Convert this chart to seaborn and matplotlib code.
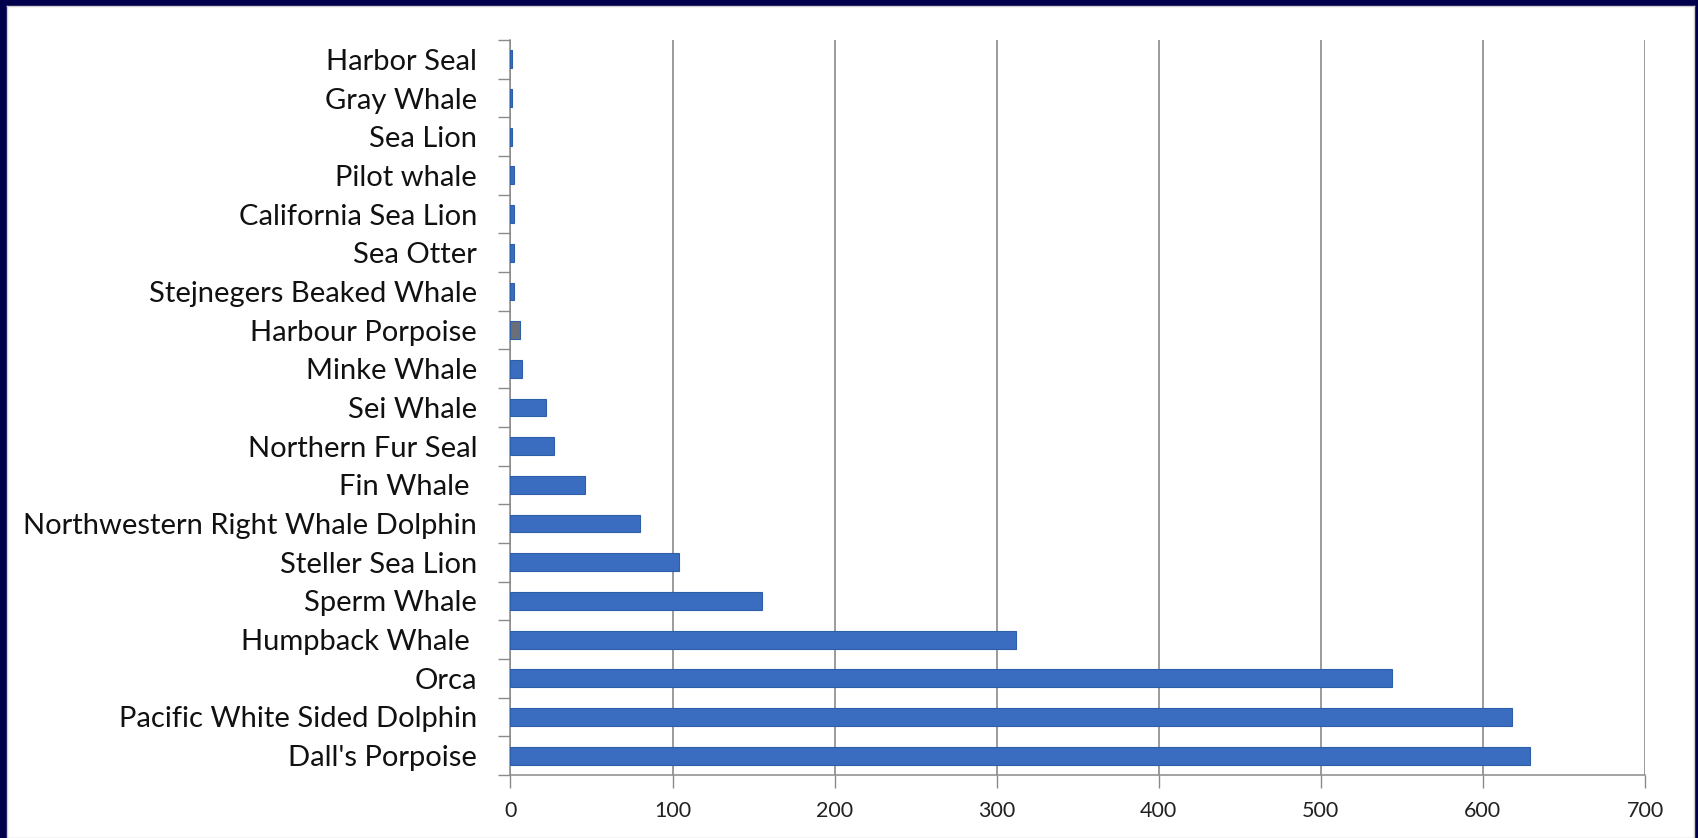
import matplotlib
matplotlib.use("Agg")
import matplotlib.pyplot as plt
import seaborn as sns
import pandas as pd
from matplotlib.ticker import FixedLocator

species = ["Harbor Seal", "Gray Whale", "Sea Lion", "Pilot whale", "California Sea Lion",
           "Sea Otter", "Stejnegers Beaked Whale", "Harbour Porpoise", "Minke Whale",
           "Sei Whale", "Northern Fur Seal", "Fin Whale ", "Northwestern Right Whale Dolphin",
           "Steller Sea Lion", "Sperm Whale", "Humpback Whale ", "Orca",
           "Pacific White Sided Dolphin", "Dall's Porpoise"]
counts = [1, 1, 1, 2, 2, 2, 2, 6, 7, 22, 27, 46, 80, 104, 155, 312, 544, 618, 629]
x_ticks = [0, 100, 200, 300, 400, 500, 600, 700]

df = pd.DataFrame({"species": species, "count": counts})

sns.set_theme(style="white")
plt.rcParams['font.family'] = ['Lato', 'DejaVu Sans']

fig = plt.figure(figsize=(16.99, 8.38), dpi=100)
fig.patch.set_facecolor("#00004d")

# white card inside the navy frame (open at the bottom)
bg = fig.add_axes([7 / 1699, 0, 1 - 12 / 1699, 1 - 6 / 838], zorder=-5)
bg.set_facecolor("white")
bg.set_xticks([])
bg.set_yticks([])
for s in bg.spines.values():
    s.set_color("#d0d0d0")
    s.set_linewidth(1)

ax = fig.add_axes([510.5 / 1699, 63 / 838, (1645 - 510.5) / 1699, (798 - 63) / 838], zorder=1)
ax.set_facecolor("none")

bar_colors = ["#3a6cc0"] * len(species)
bar_colors[species.index("Harbour Porpoise")] = "#6a6f78"
sns.barplot(data=df, y="species", x="count", hue="species", palette=bar_colors,
            legend=False, orient="h", width=0.46, ax=ax, saturation=1, zorder=3,
            edgecolor="#2f5ea8", linewidth=0.8)

ax.set_xlim(0, 700)
ax.set_ylim(len(species) - 0.5, -0.5)
ax.set_xticks(x_ticks)
ax.set_xticklabels([str(t) for t in x_ticks], fontsize=15.5, color="#222222")
ax.set_yticks(range(len(species)))
ax.set_yticklabels(species, fontsize=21, color="#111111")
ax.set_xlabel("")
ax.set_ylabel("")

ax.xaxis.grid(True, color="#808080", linewidth=1.1, zorder=0)
ax.yaxis.grid(False)
ax.set_axisbelow(True)

ax.yaxis.set_minor_locator(FixedLocator([i - 0.5 for i in range(len(species) + 1)]))
ax.tick_params(axis="y", which="major", length=0, pad=24)
ax.tick_params(axis="y", which="minor", length=9, width=1, color="#8a8a8a", direction="out", left=True)
ax.tick_params(axis="x", which="major", length=9, width=1, color="#8a8a8a", direction="out", bottom=True, pad=10)

for side in ["top", "right"]:
    ax.spines[side].set_visible(False)
for side in ["left", "bottom"]:
    ax.spines[side].set_color("#8a8a8a")
    ax.spines[side].set_linewidth(1.1)

fig.savefig("out.png", dpi=100, facecolor=fig.get_facecolor())
